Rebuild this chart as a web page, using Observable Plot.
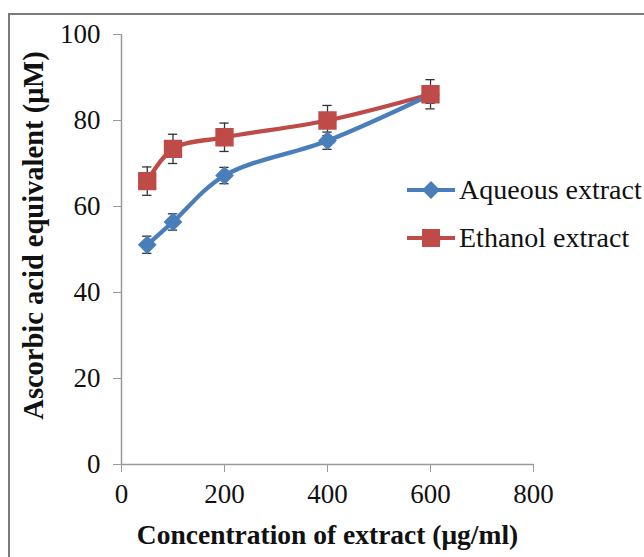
<!DOCTYPE html>
<html>
<head>
<meta charset="utf-8">
<script src="https://cdn.jsdelivr.net/npm/d3@7"></script>
<script src="https://cdn.jsdelivr.net/npm/@observablehq/plot@0.6"></script>
<style>
  html, body { margin: 0; padding: 0; background: #fff; overflow: hidden; width: 644px; height: 557px; }
  #wrap { position: relative; width: 644px; height: 557px; }
  #border { position: absolute; left: 8px; top: 13px; width: 700px; height: 600px; border: 2px solid #7a7a7a; box-sizing: border-box; pointer-events: none; }
  #legend { position: absolute; left: 406px; top: 166px; font-family: "Liberation Serif", "Times New Roman", serif; font-size: 28px; color: #111; }
  .row { display: flex; align-items: center; height: 48px; white-space: nowrap; }
  .row svg { margin-right: 3px; }
</style>
</head>
<body>
<div id="wrap">
  <div id="chart"></div>
  <div id="border"></div>
  <div id="legend"></div>
</div>
<script>
const concentrations = [50, 100, 200, 400, 600];
const aqueousValues = [51.1, 56.4, 67.2, 75.3, 86.0];
const aqueousErrors = [2.0, 1.9, 1.9, 2.0, 2.0];
const ethanolValues = [65.9, 73.4, 76.1, 80.0, 86.1];
const ethanolErrors = [3.3, 3.4, 3.3, 3.5, 3.4];
const seriesNames = ["Aqueous extract", "Ethanol extract"];
const seriesColors = ["#4A7EBB", "#BE4B48"];
const xTicks = [0, 200, 400, 600, 800];
const yTicks = [0, 20, 40, 60, 80, 100];
const xTitle = "Concentration of extract (μg/ml)";
const yTitle = "Ascorbic acid equivalent (μM)";

const aqueous = concentrations.map((c, i) => ({x: c, y: aqueousValues[i], e: aqueousErrors[i]}));
const ethanol = concentrations.map((c, i) => ({x: c, y: ethanolValues[i], e: ethanolErrors[i]}));
const capHalf = 9; // data units for error bar caps

const font = "Liberation Serif, Times New Roman, serif";

function errorMarks(data) {
  return [
    Plot.ruleX(data, {x: "x", y1: d => d.y - d.e, y2: d => d.y + d.e, stroke: "#333", strokeWidth: 1.3}),
    Plot.ruleY(data, {y: d => d.y + d.e, x1: d => d.x - capHalf, x2: d => d.x + capHalf, stroke: "#333", strokeWidth: 1.3}),
    Plot.ruleY(data, {y: d => d.y - d.e, x1: d => d.x - capHalf, x2: d => d.x + capHalf, stroke: "#333", strokeWidth: 1.3})
  ];
}

const chart = Plot.plot({
  width: 644,
  height: 557,
  marginLeft: 121,
  marginRight: 111,
  marginTop: 34,
  marginBottom: 93,
  style: {fontFamily: font, background: "transparent", overflow: "visible"},
  x: {domain: [0, 800]},
  y: {domain: [0, 100]},
  marks: [
    Plot.ruleX([0], {stroke: "#999", strokeWidth: 1.5}),
    Plot.ruleY([0], {stroke: "#999", strokeWidth: 1.5}),
    Plot.axisY({ticks: yTicks, tickSize: 8, tickPadding: 13, fontSize: 27, stroke: "#999", fill: "#111", label: null, tickFormat: d => String(d)}),
    Plot.axisX({ticks: xTicks, tickSize: 8, tickPadding: 11, fontSize: 27, stroke: "#999", fill: "#111", label: null, tickFormat: d => String(d)}),
    Plot.text([yTitle], {frameAnchor: "left", textAnchor: "middle", rotate: -90, dx: -88, dy: -14, fontSize: 28.5, fontWeight: "bold", fill: "#111"}),
    Plot.text([xTitle], {frameAnchor: "bottom", dy: 79, fontSize: 27.5, fontWeight: "bold", fill: "#111"}),
    Plot.line(ethanol, {x: "x", y: "y", stroke: seriesColors[1], strokeWidth: 4.3, curve: "catmull-rom"}),
    Plot.line(aqueous, {x: "x", y: "y", stroke: seriesColors[0], strokeWidth: 4.3, curve: "catmull-rom"}),
    ...errorMarks(aqueous),
    ...errorMarks(ethanol),
    Plot.dot(aqueous, {x: "x", y: "y", symbol: "diamond2", r: 7.5, fill: seriesColors[0], stroke: seriesColors[0]}),
    Plot.dot(ethanol, {x: "x", y: "y", symbol: "square", r: 9.5, fill: seriesColors[1], stroke: seriesColors[1]})
  ]
});
document.getElementById("chart").appendChild(chart);

// Legend
const legend = d3.select("#legend");
seriesNames.forEach((name, i) => {
  const row = legend.append("div").attr("class", "row");
  const s = row.append("svg").attr("width", 50).attr("height", 24);
  s.append("line").attr("x1", 1).attr("x2", 49).attr("y1", 12).attr("y2", 12)
    .attr("stroke", seriesColors[i]).attr("stroke-width", 4);
  if (i === 0) {
    s.append("path").attr("d", "M25,3L34,12L25,21L16,12Z").attr("fill", seriesColors[i]);
  } else {
    s.append("rect").attr("x", 16).attr("y", 3).attr("width", 18).attr("height", 18).attr("fill", seriesColors[i]);
  }
  row.append("span").text(name);
});
</script>
</body>
</html>
